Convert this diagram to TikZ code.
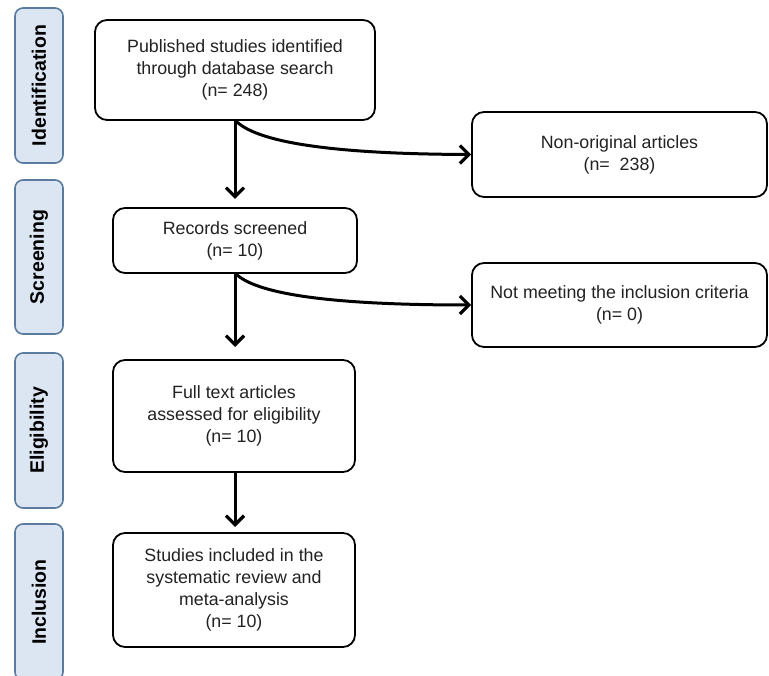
\documentclass[tikz,border=0pt]{standalone}
\usepackage{fontspec}
\setmainfont{Liberation Sans}
\usetikzlibrary{arrows.meta}
\definecolor{phasefill}{HTML}{DCE6F2}
\definecolor{phaseline}{HTML}{5A7A9E}
\definecolor{txt}{HTML}{222222}
\begin{document}
\begin{tikzpicture}[x=1pt,y=-1pt,
  box/.style={draw=black,line width=1.8pt,rounded corners=12pt,align=center,
    text=txt,font=\fontsize{17.8}{22}\selectfont,inner sep=0pt},
  phase/.style={draw=phaseline,fill=phasefill,line width=1.6pt,rounded corners=8pt,
    rotate=90,font=\bfseries\fontsize{19.5}{22}\selectfont,text=black,inner sep=0pt,
    minimum height=48pt},
  arr/.style={line width=3pt,-{Straight Barb[length=9pt,width=18pt,line width=3.2pt]}}
]
\useasboundingbox (0,0) rectangle (769,676);
\fill[white] (0,0) rectangle (769,676);
% phase labels
\node[phase,minimum width=155pt] (pid) at (39,85.5) {Identification};
\node[phase,minimum width=154pt] (psc) at (39,257) {Screening};
\node[phase,minimum width=155pt] (pel) at (39,430.5) {Eligibility};
\node[phase,minimum width=156pt] (pin) at (39,602) {Inclusion};
% main boxes
\node[box,minimum width=280pt,minimum height=100pt] (b1) at (235,70)
  {Published studies identified\\through database search\\(n= 248)};
\node[box,minimum width=244pt,minimum height=65pt] (b2) at (235,240.5)
  {Records screened\\(n= 10)};
\node[box,minimum width=242pt,minimum height=112pt] (b3) at (234,416)
  {Full text articles\\assessed for eligibility\\(n= 10)};
\node[box,minimum width=242pt,minimum height=114pt] (b4) at (234,590)
  {Studies included in the\\systematic review and\\meta-analysis\\(n= 10)};
% side boxes
\node[box,minimum width=295pt,minimum height=85pt] (e1) at (619.5,154.5)
  {Non-original articles\\(n=\ \ 238)};
\node[box,minimum width=295pt,minimum height=84pt] (e2) at (619.5,305)
  {Not meeting the inclusion criteria\\(n= 0)};
% connectors
\coordinate (s1) at (235,120);
\coordinate (s2) at (235,273);
\coordinate (s3) at (235,472);
\draw[arr] (s1) -- (235,199) coordinate (t1);
\draw[arr] (s1) .. controls (255,142) and (330,154) .. (e1.west);
\draw[arr] (s2) -- (235,347) coordinate (t2);
\draw[arr] (s2) .. controls (255,294) and (330,305) .. (e2.west);
\draw[arr] (s3) -- (235,527) coordinate (t3);
\end{tikzpicture}
\end{document}
